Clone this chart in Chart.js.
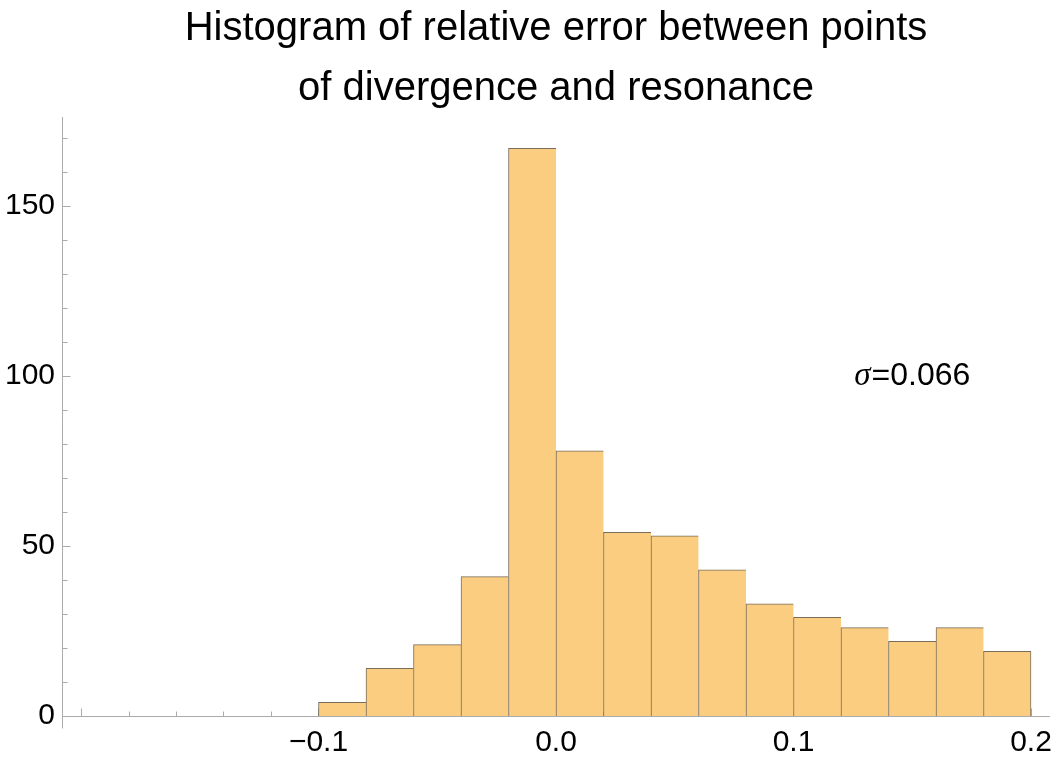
<!DOCTYPE html>
<html lang="en">
<head>
    <meta charset="UTF-8">
    <title>Histogram of relative error</title>
    <style>
    body {
        margin: 0;
        background-color: #ffffff;
    }

    .chart-box {
        width: 1057px;
        height: 769px;
        position: relative;
    }
    </style>
</head>
<body>

    <div class="chart-box">
        <canvas id="histChart"></canvas>
    </div>

    <script src="https://cdn.jsdelivr.net/npm/chart.js"></script>

    <script>
// bin edges and counts
const binEdges = [-0.1, -0.08, -0.06, -0.04, -0.02, 0.0, 0.02, 0.04, 0.06, 0.08, 0.1, 0.12, 0.14, 0.16, 0.18, 0.2];
const counts = [4, 14, 21, 41, 167, 78, 54, 53, 43, 33, 29, 26, 22, 26, 19];
const xTickValues = [-0.1, 0.0, 0.1, 0.2];
const yTickValues = [0, 50, 100, 150];
const titleLines = ['Histogram of relative error between points', 'of divergence and resonance'];
const sigmaText = '0.066';

const axisColor = '#ababab';

// one point per bin, placed at the bin centre
const histData = counts.map((c, i) => ({ x: (binEdges[i] + binEdges[i + 1]) / 2, y: c }));

Chart.defaults.font.family = '"Liberation Sans", Arial, sans-serif';
Chart.defaults.color = '#000';

// axes, inner ticks and the sigma note, drawn with the chart scales
const axesPlugin = {
    id: 'axesPlugin',
    beforeDatasetsDraw(chart) {
        const { ctx, chartArea, scales } = chart;
        const xs = scales.x, ys = scales.y;
        const left = Math.round(chartArea.left) + 0.5;
        const bottom = Math.round(chartArea.bottom) + 0.5;
        ctx.save();
        ctx.strokeStyle = axisColor;
        ctx.lineWidth = 1;
        ctx.beginPath();
        // y axis, a bit past zero
        ctx.moveTo(left, Math.round(chartArea.top));
        ctx.lineTo(left, bottom + 12);
        // x axis
        ctx.moveTo(left, bottom);
        ctx.lineTo(Math.round(chartArea.right), bottom);
        // y ticks every 10
        for (let v = 0; v <= ys.max; v += 10) {
            const py = Math.round(ys.getPixelForValue(v)) + 0.5;
            const len = v % 50 === 0 ? 8 : 5;
            ctx.moveTo(left, py);
            ctx.lineTo(left + len, py);
        }
        // x ticks every 0.02
        for (let k = -10; k <= 10; k++) {
            const px = Math.round(xs.getPixelForValue(k * 0.02)) + 0.5;
            const len = k % 5 === 0 ? 8 : 5;
            ctx.moveTo(px, bottom);
            ctx.lineTo(px, bottom - len);
        }
        ctx.stroke();
        ctx.restore();
    },
    afterDatasetsDraw(chart) {
        const { ctx, scales } = chart;
        const cx = scales.x.getPixelForValue(0.15);
        const cy = scales.y.getPixelForValue(100);
        ctx.save();
        ctx.fillStyle = '#000';
        ctx.textBaseline = 'middle';
        ctx.textAlign = 'left';
        const italic = 'italic 33px "Liberation Serif", serif';
        const plain = '32px "Liberation Sans", Arial, sans-serif';
        ctx.font = italic;
        const w1 = ctx.measureText('σ').width + 1;
        ctx.font = plain;
        const rest = '=' + sigmaText;
        const w2 = ctx.measureText(rest).width;
        const x0 = cx - (w1 + w2) / 2;
        ctx.font = italic;
        ctx.fillText('σ', x0, cy);
        ctx.font = plain;
        ctx.fillText(rest, x0 + w1, cy);
        ctx.restore();
    }
};

const ctx = document.getElementById('histChart').getContext('2d');
const histChart = new Chart(ctx, {
    type: 'bar',
    data: {
        datasets: [{
            label: 'Counts',
            data: histData,
            backgroundColor: '#facd80',
            borderColor: '#7a6c5a',
            borderWidth: (c) => ({ top: 1, left: 1, bottom: 0, right: c.dataIndex === counts.length - 1 ? 1 : 0 }),
            barPercentage: 1.0,
            categoryPercentage: 1.0
        }]
    },
    options: {
        responsive: true,
        maintainAspectRatio: false,
        animation: false,
        layout: {
            padding: { left: 0, right: 7, top: 0, bottom: 0 }
        },
        plugins: {
            legend: { display: false },
            tooltip: { enabled: false },
            title: {
                display: true,
                fullSize: false,
                text: titleLines,
                color: '#000',
                font: { size: 40, weight: 'normal', lineHeight: 1.5 },
                padding: { top: -1, bottom: -2 }
            }
        },
        scales: {
            x: {
                type: 'linear',
                min: -0.208,
                max: 0.208,
                offset: false,
                grid: { display: false, offset: false, drawTicks: false },
                border: { display: false },
                afterBuildTicks: (scale) => {
                    scale.ticks = xTickValues.map(v => ({ value: v }));
                },
                afterFit: (scale) => {
                    scale.height = 53;
                    scale.paddingLeft = 0;
                    scale.paddingRight = 0;
                },
                ticks: {
                    padding: 9,
                    maxRotation: 0,
                    autoSkip: false,
                    font: { size: 30 },
                    callback: (v) => (v < 0 ? '\u2212' : '') + Math.abs(v).toFixed(1)
                }
            },
            y: {
                min: 0,
                max: 176.2,
                grid: { display: false, drawTicks: false },
                border: { display: false },
                afterBuildTicks: (scale) => {
                    scale.ticks = yTickValues.map(v => ({ value: v }));
                },
                afterFit: (scale) => {
                    scale.width = 62;
                    scale.paddingTop = 0;
                    scale.paddingBottom = 0;
                },
                ticks: {
                    padding: 7,
                    font: { size: 30 },
                    callback: (v) => String(v)
                }
            }
        }
    },
    plugins: [axesPlugin]
});
    </script>
</body>
</html>
